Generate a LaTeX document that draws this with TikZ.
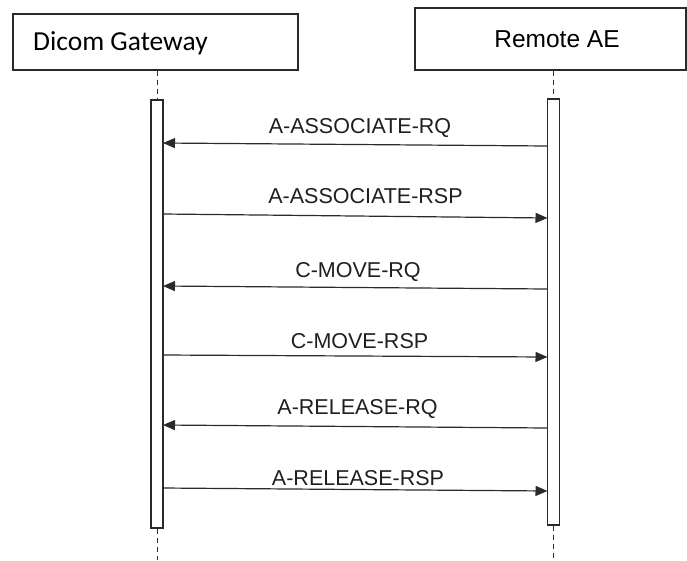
\documentclass[tikz,border=0pt]{standalone}
\usepackage{fontspec}
\setmainfont{Liberation Sans}
\newfontfamily\calib{Carlito}
\usetikzlibrary{arrows.meta}
\definecolor{ln}{HTML}{2A2A2A}
\begin{document}
\begin{tikzpicture}[x=1pt,y=1pt,
  actor/.style={draw=ln,line width=1.1pt,fill=white,inner sep=0pt},
  bar/.style={draw=ln,line width=1.1pt,fill=white,minimum width=12pt,inner sep=0pt},
  life/.style={draw=ln,line width=1pt,dash pattern=on 5pt off 4pt},
  msg/.style={draw=ln,line width=1.2pt,-{Triangle[length=12pt,width=10pt]}},
  lbl/.style={font=\fontsize{21.5}{23}\selectfont,text=black!88,inner sep=0pt,anchor=base}]
\useasboundingbox (0,0) rectangle (687,-560);
% actors
\node[actor,minimum width=285pt,minimum height=56pt] (gw) at (155.5,-42) {};
\node[anchor=base west,inner sep=0pt,font=\calib\fontsize{27.5}{30}\selectfont] (gwt) at (33,-50) {Dicom Gateway};
\node[actor,minimum width=271pt,minimum height=62pt] (ra) at (550.5,-39) {};
\node[anchor=base,inner sep=0pt,font=\fontsize{24.5}{26}\selectfont] (rat) at (557,-47) {Remote AE};
% activation bars
\node[bar,minimum height=428pt] (lb) at (157,-314) {};
\node[bar,minimum height=426pt] (rb) at (553.5,-312) {};
% lifelines
\coordinate (lend) at (157,-560);
\coordinate (rend) at (553.5,-560);
\draw[life] (gw.south -| lb.north) -- (lb.north);
\draw[life] (ra.south -| rb.north) -- (rb.north);
\draw[life] (lb.south) -- (lend);
\draw[life] (rb.south) -- (rend);
% message end points
\coordinate (a1) at (547.5,-146); \coordinate (b1) at (163,-143);
\coordinate (a2) at (163,-214);   \coordinate (b2) at (547.5,-218);
\coordinate (a3) at (547.5,-289); \coordinate (b3) at (163,-286);
\coordinate (a4) at (163,-355);   \coordinate (b4) at (547.5,-357);
\coordinate (a5) at (547.5,-428); \coordinate (b5) at (163,-425);
\coordinate (a6) at (163,-488);   \coordinate (b6) at (547.5,-491);
\draw[msg] (a1) -- (b1);
\draw[msg] (a2) -- (b2);
\draw[msg] (a3) -- (b3);
\draw[msg] (a4) -- (b4);
\draw[msg] (a5) -- (b5);
\draw[msg] (a6) -- (b6);
% labels
\node[lbl] (l1) at (360,-133) {A-ASSOCIATE-RQ};
\node[lbl] (l2) at (365.5,-203) {A-ASSOCIATE-RSP};
\node[lbl] (l3) at (358,-277) {C-MOVE-RQ};
\node[lbl] (l4) at (359.5,-348) {C-MOVE-RSP};
\node[lbl] (l5) at (357.5,-414) {A-RELEASE-RQ};
\node[lbl] (l6) at (358,-485) {A-RELEASE-RSP};
\end{tikzpicture}
\end{document}
